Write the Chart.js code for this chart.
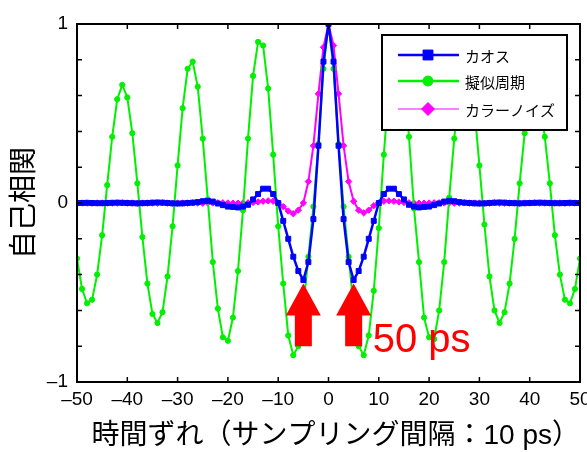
<!DOCTYPE html>
<html>
<head>
<meta charset="utf-8">
<script src="https://cdn.jsdelivr.net/npm/chart.js@4.4.0/dist/chart.umd.min.js"></script>
<style>
  html, body { margin: 0; padding: 0; background: #fff; }
  #wrap { width: 587px; height: 452px; position: relative; }
</style>
</head>
<body>
<div id="wrap"><canvas id="acf-chart"></canvas></div>
<script>
// Time lag (sampling interval 10 ps)
const lags = [
  -50, -49, -48, -47, -46, -45, -44, -43, -42, -41, -40, -39, -38, -37, -36, -35, -34,
  -33, -32, -31, -30, -29, -28, -27, -26, -25, -24, -23, -22, -21, -20, -19, -18, -17,
  -16, -15, -14, -13, -12, -11, -10, -9, -8, -7, -6, -5, -4, -3, -2, -1,
  0,
  1, 2, 3, 4, 5, 6, 7, 8, 9, 10, 11, 12, 13, 14, 15, 16, 17, 18, 19, 20, 21, 22, 23,
  24, 25, 26, 27, 28, 29, 30, 31, 32, 33, 34, 35, 36, 37, 38, 39, 40, 41, 42, 43, 44,
  45, 46, 47, 48, 49, 50
];

// カオス
const chaosValue = [
  0, 0, 0.001, 0, -0.001, -0.001, 0, 0.001, 0.002, 0.001, 0, -0.001, -0.002, -0.001,
  0, 0.002, 0.003, 0.002, 0, -0.002, -0.003, -0.002, 0, 0.002, 0.005, 0.01, 0.012,
  0.008, -0.003, -0.012, -0.02, -0.022, -0.025, -0.02, -0.01, 0.02, 0.05, 0.08, 0.08,
  0.05, 0, -0.10, -0.20, -0.30, -0.38, -0.43, -0.33, -0.09, 0.32, 0.79,
  1,
  0.79, 0.32, -0.09, -0.33, -0.43, -0.38, -0.30, -0.20, -0.10, 0, 0.05, 0.08, 0.08,
  0.05, 0.02, -0.01, -0.02, -0.025, -0.022, -0.02, -0.012, -0.003, 0.008, 0.012, 0.01,
  0.005, 0.002, 0, -0.002, -0.003, -0.002, 0, 0.002, 0.003, 0.002, 0, -0.001, -0.002,
  -0.001, 0, 0.001, 0.002, 0.001, 0, -0.001, -0.001, 0, 0.001, 0, 0
];

// 擬似周期
const quasiValue = [
  -0.31, -0.48, -0.56, -0.54, -0.40, -0.18, 0.10, 0.37, 0.58, 0.66, 0.59, 0.39, 0.11,
  -0.19, -0.45, -0.62, -0.67, -0.61, -0.41, -0.13, 0.21, 0.53, 0.75, 0.79, 0.65, 0.36,
  0.02, -0.33, -0.59, -0.75, -0.77, -0.64, -0.38, -0.04, 0.36, 0.71, 0.90, 0.88, 0.64,
  0.27, -0.13, -0.45, -0.74, -0.85, -0.80, -0.58, -0.30, -0.02, 0.33, 0.75,
  1,
  0.75, 0.33, -0.02, -0.30, -0.58, -0.80, -0.85, -0.74, -0.49, -0.14, 0.27, 0.64, 0.88,
  0.90, 0.71, 0.37, -0.03, -0.33, -0.64, -0.75, -0.76, -0.60, -0.33, 0.03, 0.36, 0.65,
  0.79, 0.75, 0.53, 0.21, -0.12, -0.41, -0.60, -0.67, -0.61, -0.45, -0.20, 0.11, 0.39,
  0.59, 0.66, 0.58, 0.37, 0.11, -0.18, -0.40, -0.54, -0.56, -0.48, -0.31
];

// カラーノイズ
const noiseValue = [
  0, 0, 0, -0.001, 0, 0, 0, 0, 0, 0.001, 0, 0, -0.001, 0, 0, 0, 0, 0.001, 0, -0.001,
  0, 0, 0, 0.001, 0, -0.001, 0, 0, 0.001, 0.001, 0, -0.001, -0.001, 0, 0.001, 0.003,
  0.006, 0.01, 0.012, 0.01, 0, -0.02, -0.045, -0.06, -0.04, 0, 0.12, 0.32, 0.61, 0.87,
  1,
  0.88, 0.61, 0.32, 0.12, 0.01, -0.04, -0.055, -0.04, -0.015, 0, 0.01, 0.012, 0.01,
  0.006, 0.003, 0.001, 0, -0.001, -0.001, 0, 0.001, 0.001, 0, 0, -0.001, 0, 0.001, 0,
  0, 0, -0.001, 0, 0.001, 0, 0, 0, 0, -0.001, 0, 0, 0.001, 0, 0, 0, 0, 0, -0.001, 0, 0, 0
];

const seriesLabels = ['カオス', '擬似周期', 'カラーノイズ'];
const yLabelledTicks = [-1, 0, 1];

// Red arrows pointing at the ±5 lag dips, with note
const arrowLags = [-5, 5];
const arrowTip = -0.45;
const arrowBase = -0.80;
const noteText = '50 ps';
const noteAt = [8.8, -0.835];

const latin = '"Liberation Sans", Arial, sans-serif';
const mixed = '"Liberation Sans", "Noto Sans CJK JP", sans-serif';
const cjk = '"Noto Sans CJK JP", "Noto Sans CJK SC", sans-serif';

const fmtMinus = v => (v < 0 ? '\u2013' + Math.abs(v) : String(v));

const framePlugin = {
  id: 'framePlugin',
  afterDatasetsDraw(chart) {
    const { ctx, chartArea: a, scales: { x, y } } = chart;
    ctx.save();

    // arrows
    ctx.fillStyle = '#ff0000';
    arrowLags.forEach(lag => {
      const cx = x.getPixelForValue(lag);
      const tip = y.getPixelForValue(arrowTip);
      const base = y.getPixelForValue(arrowBase);
      const headH = 32, headW = 17.5, shaftW = 8.5;
      ctx.beginPath();
      ctx.moveTo(cx, tip);
      ctx.lineTo(cx + headW, tip + headH);
      ctx.lineTo(cx + shaftW, tip + headH);
      ctx.lineTo(cx + shaftW, base);
      ctx.lineTo(cx - shaftW, base);
      ctx.lineTo(cx - shaftW, tip + headH);
      ctx.lineTo(cx - headW, tip + headH);
      ctx.closePath();
      ctx.fill();
    });

    // note text
    ctx.font = '40px ' + latin;
    ctx.textAlign = 'left';
    ctx.textBaseline = 'alphabetic';
    ctx.fillText(noteText, x.getPixelForValue(noteAt[0]), y.getPixelForValue(noteAt[1]));

    // box + inward ticks
    ctx.strokeStyle = '#000';
    ctx.lineWidth = 2;
    ctx.strokeRect(a.left, a.top, a.width, a.height);
    ctx.lineWidth = 1.5;
    ctx.beginPath();
    x.ticks.forEach(t => {
      const px = x.getPixelForValue(t.value);
      ctx.moveTo(px, a.bottom); ctx.lineTo(px, a.bottom - 5);
      ctx.moveTo(px, a.top); ctx.lineTo(px, a.top + 5);
    });
    y.ticks.forEach(t => {
      const py = y.getPixelForValue(t.value);
      ctx.moveTo(a.left, py); ctx.lineTo(a.left + 5, py);
      ctx.moveTo(a.right, py); ctx.lineTo(a.right - 5, py);
    });
    ctx.stroke();

    // legend box inside the plot
    const bx = a.right - 198, by = a.top + 11, bw = 185, bh = 95;
    ctx.fillStyle = '#fff';
    ctx.fillRect(bx, by, bw, bh);
    ctx.lineWidth = 2;
    ctx.strokeRect(bx, by, bw, bh);
    const rows = [20, 46, 74];
    const markerR = [7, 5, 6.5];
    ctx.font = '15px ' + cjk;
    ctx.textBaseline = 'middle';
    chart.data.datasets.forEach((ds, i) => {
      const ry = by + rows[i];
      ctx.strokeStyle = ds.borderColor;
      ctx.lineWidth = i === 2 ? 1 : 2.5;
      ctx.beginPath();
      ctx.moveTo(bx + 16, ry);
      ctx.lineTo(bx + 77, ry);
      ctx.stroke();
      ctx.fillStyle = ds.backgroundColor;
      ctx.lineWidth = 1;
      Chart.helpers.drawPoint(ctx, { pointStyle: ds.pointStyle, radius: markerR[i], borderWidth: 1 }, bx + 46, ry);
      ctx.fillStyle = '#000';
      ctx.fillText(ds.label, bx + 83, ry + 1);
    });

    ctx.restore();
  }
};

const acfChart = document.getElementById('acf-chart');
new Chart(acfChart, {
  type: 'line',
  data: {
    datasets: [
      {
        label: seriesLabels[0],
        data: lags.map((lag, i) => ({ x: lag, y: chaosValue[i] })),
        borderColor: '#0000ff',
        backgroundColor: '#0000ff',
        borderWidth: 2.5,
        pointStyle: 'rect',
        pointRadius: 3.5,
        pointBorderWidth: 1,
      },
      {
        label: seriesLabels[1],
        data: lags.map((lag, i) => ({ x: lag, y: quasiValue[i] })),
        borderColor: '#00f000',
        backgroundColor: '#00f000',
        borderWidth: 2,
        pointStyle: 'circle',
        pointRadius: 2.6,
        pointBorderWidth: 1,
      },
      {
        label: seriesLabels[2],
        data: lags.map((lag, i) => ({ x: lag, y: noiseValue[i] })),
        borderColor: '#ff00ff',
        backgroundColor: '#ff00ff',
        borderWidth: 2,
        pointStyle: 'rectRot',
        pointRadius: 3.2,
        pointBorderWidth: 1,
      }
    ]
  },
  options: {
    responsive: true,
    maintainAspectRatio: false,
    animation: false,
    layout: { padding: { left: 0, top: 24, right: 7, bottom: 0 } },
    plugins: {
      legend: { display: false },
      tooltip: { enabled: false }
    },
    scales: {
      x: {
        type: 'linear',
        min: -50,
        max: 50,
        ticks: {
          stepSize: 10,
          padding: 6,
          maxRotation: 0,
          autoSkip: false,
          color: '#000',
          font: { family: latin, size: 19 },
          callback: v => fmtMinus(v)
        },
        grid: { display: false, drawTicks: false },
        border: { display: false },
        title: {
          display: true,
          align: 'end',
          text: '時間ずれ（サンプリング間隔：10 ps）',
          color: '#000',
          font: { family: mixed, size: 28, lineHeight: 1.1 },
          padding: 0
        },
        afterFit: s => { s.height = 70; s.paddingLeft = 0; s.paddingRight = 0; }
      },
      y: {
        min: -1,
        max: 1,
        ticks: {
          stepSize: 0.2,
          padding: 9,
          autoSkip: false,
          color: '#000',
          font: { family: latin, size: 19 },
          callback: v => {
            const hit = yLabelledTicks.find(t => Math.abs(t - v) < 1e-6);
            return hit === undefined ? '' : fmtMinus(hit);
          }
        },
        grid: { display: false, drawTicks: false },
        border: { display: false },
        title: {
          display: true,
          text: '自己相関',
          color: '#000',
          font: { family: cjk, size: 28, lineHeight: 1.1 },
          padding: { top: 7, bottom: 0 }
        },
        afterFit: s => { s.width = 77; s.paddingTop = 0; s.paddingBottom = 0; }
      }
    }
  },
  plugins: [framePlugin]
});
</script>
</body>
</html>
